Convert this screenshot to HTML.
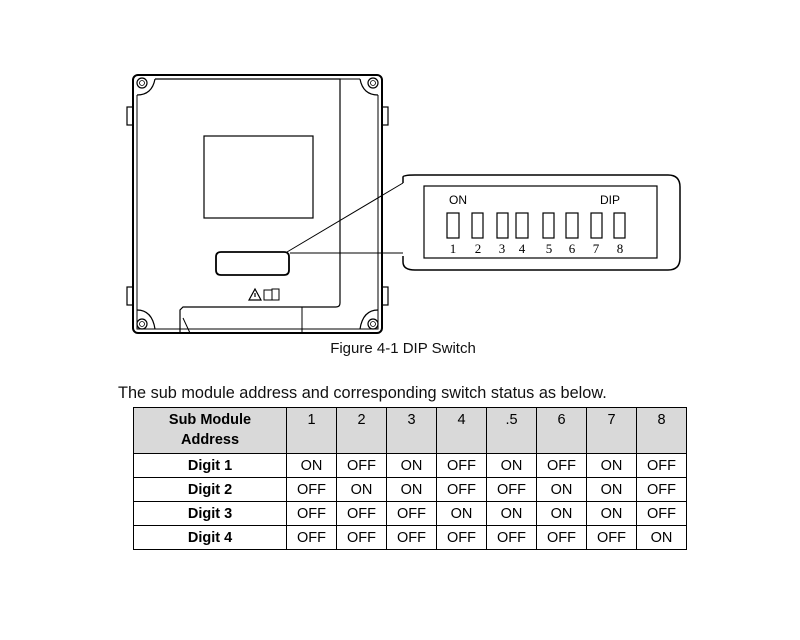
<!DOCTYPE html>
<html><head><style>
body{margin:0;width:800px;height:640px;background:#fff;position:relative;font-family:"Liberation Sans",sans-serif;overflow:hidden}
.cap{position:absolute;left:0;width:806px;text-align:center;top:340px;font-size:15px;color:#111}
.intro{position:absolute;left:118px;top:384px;font-size:16.3px;color:#111}
table{position:absolute;left:133px;top:407px;border-collapse:collapse;font-size:14.5px;color:#000}
td{border:1.5px solid #000;text-align:center;padding:0;height:23px;width:49px}
td.h{width:152px;font-weight:bold}
tr.hd td{background:#d9d9d9;height:41px;vertical-align:top;padding-top:4px}
tr.hd td.h{line-height:20px;padding-top:2px}
</style></head><body>
<svg width="800" height="640" style="position:absolute;left:0;top:0" fill="none" stroke="#000">
<rect x="127" y="107" width="6" height="18" stroke-width="1.2"/>
<rect x="127" y="287" width="6" height="18" stroke-width="1.2"/>
<rect x="382" y="107" width="6" height="18" stroke-width="1.2"/>
<rect x="382" y="287" width="6" height="18" stroke-width="1.2"/>
<rect x="133" y="75" width="249" height="258" rx="5" stroke-width="2"/>
<path d="M137 95 L137 329 L378 329 L378 95" stroke-width="1"/>
<path d="M155 79 L340 79 L340 303 Q340 307 336 307 L183 307 L180 310 L180 333" stroke-width="1.2"/>
<path d="M340 79 L360 79" stroke-width="1"/>
<path d="M302 307 L302 333 M183 318 L190 333" stroke-width="1"/>
<path d="M137 95 Q152 95 155 79" stroke-width="1.2"/>
<path d="M378 95 Q363 95 360 79" stroke-width="1.2"/>
<path d="M137 310 Q152 310 155 329" stroke-width="1.2"/>
<path d="M378 310 Q363 310 360 329" stroke-width="1.2"/>
<circle cx="142" cy="83" r="5" stroke-width="1.2"/><circle cx="142" cy="83" r="2.5" stroke-width="0.8"/>
<circle cx="373" cy="83" r="5" stroke-width="1.2"/><circle cx="373" cy="83" r="2.5" stroke-width="0.8"/>
<circle cx="142" cy="324" r="5" stroke-width="1.2"/><circle cx="142" cy="324" r="2.5" stroke-width="0.8"/>
<circle cx="373" cy="324" r="5" stroke-width="1.2"/><circle cx="373" cy="324" r="2.5" stroke-width="0.8"/>
<rect x="204" y="136" width="109" height="82" stroke-width="1.2"/>
<path d="M221 252 L284 252 Q289 252 289 257 L289 270 Q289 275 284 275 L221 275 Q216 275 216 270 L216 257 Q216 252 221 252 Z" stroke-width="1.8"/>
<path d="M249 300 L255 289 L261 300 Z M255 293 L255 297" stroke-width="1.2"/>
<rect x="264" y="290" width="8" height="10" stroke-width="1"/><rect x="272" y="289" width="7" height="11" stroke-width="1"/>
<path d="M287 252 L403 183 M290 253 L403 253" stroke-width="1"/>
<path d="M403 183 L403 177 Q403 175 415 175 L668 175 Q680 175 680 187 L680 258 Q680 270 668 270 L415 270 Q403 270 403 262 L403 256" stroke-width="1.5"/>
<rect x="424" y="186" width="233" height="72" stroke-width="1.2"/>
<g stroke-width="1.2">
<rect x="447" y="213" width="12" height="25"/><rect x="472" y="213" width="11" height="25"/>
<rect x="497" y="213" width="11" height="25"/><rect x="516" y="213" width="12" height="25"/>
<rect x="543" y="213" width="11" height="25"/><rect x="566" y="213" width="12" height="25"/>
<rect x="591" y="213" width="11" height="25"/><rect x="614" y="213" width="11" height="25"/>
</g>
<g fill="#000" stroke="none" font-family="Liberation Serif,serif" font-size="13" text-anchor="middle">
<text x="453" y="253">1</text><text x="478" y="253">2</text><text x="502" y="253">3</text><text x="522" y="253">4</text>
<text x="549" y="253">5</text><text x="572" y="253">6</text><text x="596" y="253">7</text><text x="620" y="253">8</text>
</g>
<g fill="#000" stroke="none" font-family="Liberation Sans,sans-serif" font-size="12">
<text x="449" y="204">ON</text><text x="600" y="204">DIP</text>
</g>
</svg>
<div class="cap">Figure 4-1 DIP Switch</div>
<div class="intro">The sub module address and corresponding switch status as below.</div>
<table>
<tr class="hd"><td class="h">Sub Module<br>Address</td><td>1</td><td>2</td><td>3</td><td>4</td><td>.5</td><td>6</td><td>7</td><td>8</td></tr>
<tr><td class="h">Digit 1</td><td>ON</td><td>OFF</td><td>ON</td><td>OFF</td><td>ON</td><td>OFF</td><td>ON</td><td>OFF</td></tr>
<tr><td class="h">Digit 2</td><td>OFF</td><td>ON</td><td>ON</td><td>OFF</td><td>OFF</td><td>ON</td><td>ON</td><td>OFF</td></tr>
<tr><td class="h">Digit 3</td><td>OFF</td><td>OFF</td><td>OFF</td><td>ON</td><td>ON</td><td>ON</td><td>ON</td><td>OFF</td></tr>
<tr><td class="h">Digit 4</td><td>OFF</td><td>OFF</td><td>OFF</td><td>OFF</td><td>OFF</td><td>OFF</td><td>OFF</td><td>ON</td></tr>
</table>
</body></html>
